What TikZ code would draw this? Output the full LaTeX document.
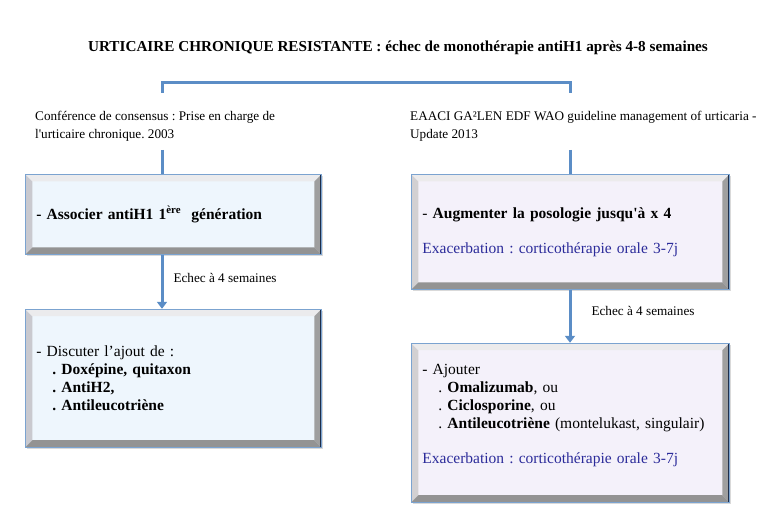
\documentclass[tikz,border=0pt]{standalone}
\usepackage{fontspec}
\setmainfont{Liberation Serif}
\usetikzlibrary{arrows.meta, positioning, shadows}
\frenchspacing
\definecolor{link}{HTML}{5B8DC6}
\definecolor{rim}{HTML}{7BA3D0}
\definecolor{rimdark}{HTML}{1E2E4A}
\definecolor{paleblue}{HTML}{EEF6FD}
\definecolor{palelilac}{HTML}{F4F1FA}
\definecolor{exacer}{HTML}{2B2B9A}

\tikzset{
  bevel/.style n args={4}{path picture={
    \coordinate (nw) at (path picture bounding box.north west);
    \coordinate (ne) at (path picture bounding box.north east);
    \coordinate (sw) at (path picture bounding box.south west);
    \coordinate (se) at (path picture bounding box.south east);
    \fill[#1] (nw) -- (sw) -- ([shift={(7pt,7pt)}]sw) -- ([shift={(7pt,-7pt)}]nw) -- cycle;
    \fill[#2] (nw) -- (ne) -- ([shift={(-7pt,-7pt)}]ne) -- ([shift={(7pt,-7pt)}]nw) -- cycle;
    \fill[#3] (ne) -- (se) -- ([shift={(-7pt,7pt)}]se) -- ([shift={(-7pt,-7pt)}]ne) -- cycle;
    \fill[#4] (sw) -- (se) -- ([shift={(-7pt,7pt)}]se) -- ([shift={(7pt,7pt)}]sw) -- cycle;
    \draw[rimdark, line width=2pt] (ne) -- (se);
  }},
  stepbox/.style={draw=rim, line width=0.8pt, inner xsep=11pt, inner ysep=0pt, align=left,
    font=\fontsize{15.5}{17.8}\selectfont,
    drop shadow={shadow xshift=1.5pt, shadow yshift=-2pt, opacity=0.3}},
  bluebox/.style={stepbox, fill=paleblue, bevel={blue!6!gray!40}{blue!5!gray!15}{gray!75}{gray!85}},
  lilacbox/.style={stepbox, fill=palelilac, bevel={violet!6!gray!35}{violet!4!gray!15}{gray!75}{gray!85}},
  conn/.style={link, line width=3pt},
  arrow/.style={conn, -{Triangle[width=10pt, length=7pt]}},
  note/.style={text=black, font=\fontsize{13.2}{18}\selectfont, inner sep=0pt, align=left}
}

\begin{document}
\begin{tikzpicture}[x=1pt, y=-1pt]
    \useasboundingbox (0,0) rectangle (762,529);
    \node[font=\fontsize{15.2}{18}\selectfont\bfseries] (title) at (398,48) {URTICAIRE CHRONIQUE RESISTANTE : échec de monothérapie antiH1 après 4-8 semaines};

    \node[note, anchor=west] (consensus) at (35,126) {Conférence de consensus : Prise en charge de\\l\textquotesingle urticaire chronique. 2003};
    \node[note, anchor=west] (eaaci) at (410,126) {EAACI GA²LEN EDF WAO guideline management of urticaria -\\Update 2013};

    \node[bluebox, text width=274pt, minimum height=80pt, anchor=north west] (assoc) at (25,174) {\textbf{- Associer antiH1 1\textsuperscript{ère}\ \ génération}};
    \node[bluebox, text width=274pt, minimum height=138pt, below=54pt of assoc] (discuss) {- Discuter l’ajout de :\\
      \hspace*{16pt}\textbf{. Doxépine, quitaxon}\\
      \hspace*{16pt}\textbf{. AntiH2,}\\
      \hspace*{16pt}\textbf{. Antileucotriène}};
    \node[lilacbox, text width=296pt, minimum height=115pt, anchor=north west] (augment) at (411,174) {- \textbf{Augmenter la posologie jusqu\textquotesingle à x 4}\\[17pt]
      {\color{exacer}Exacerbation : corticothérapie orale 3-7j}};
    \node[lilacbox, text width=296pt, minimum height=159pt, below=53pt of augment] (ajout) {- Ajouter\\
      \hspace*{16pt}. \textbf{Omalizumab}, ou\\
      \hspace*{16pt}. \textbf{Ciclosporine}, ou\\
      \hspace*{16pt}. \textbf{Antileucotriène} (montelukast, singulair)\\[17pt]
      {\color{exacer}Exacerbation : corticothérapie orale 3-7j}\\ \mbox{}};

    \coordinate (lsplit) at (162,93);
    \coordinate (rsplit) at (570,93);
    \coordinate (lstub) at (162,150);
    \coordinate (rstub) at (570,150);
    \draw[conn] (lsplit) -- ++(0,-10) -| (rsplit);
    \draw[conn] (lstub) -- (lstub |- assoc.north);
    \draw[conn] (rstub) -- (rstub |- augment.north);
    \draw[arrow] (assoc.south -| lstub) -- (discuss.north -| lstub) node[note, pos=0.43, right=10pt] {Echec à 4 semaines};
    \draw[arrow] (augment.south -| rstub) -- (ajout.north -| rstub) node[note, pos=0.4, right=20pt] {Echec à 4 semaines};
  \end{tikzpicture}
\end{document}
